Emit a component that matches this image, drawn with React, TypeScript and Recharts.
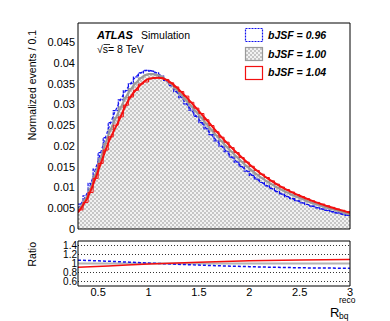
import React from 'react';
import { ComposedChart, Area, Line, XAxis, YAxis, ReferenceLine } from 'recharts';

// histogram bins: 0.05 wide, starting at 0.3
const BIN_START = 0.3;
const BIN_WIDTH = 0.05;
const FIT_START = 0.3;
const FIT_STEP = 0.1;

const histNominal = [
  0.0050, 0.0072, 0.0098, 0.0130, 0.0170, 0.0206, 0.0240, 0.0268, 0.0294, 0.0317,
  0.0338, 0.0352, 0.0364, 0.0370, 0.0374, 0.0371, 0.0368, 0.0360, 0.0348, 0.0337,
  0.0323, 0.0310, 0.0296, 0.0282, 0.0268, 0.0254, 0.0239, 0.0225, 0.0212, 0.0198,
  0.0186, 0.0173, 0.0162, 0.0151, 0.0141, 0.0131, 0.0123, 0.0115, 0.0107, 0.0100,
  0.0094, 0.0088, 0.0082, 0.0077, 0.0072, 0.0067, 0.0063, 0.0059, 0.0055, 0.0051,
  0.0047, 0.0044, 0.0041, 0.0038,
];
const histUp = [
  0.0046, 0.0064, 0.0088, 0.0122, 0.0158, 0.0190, 0.0222, 0.0250, 0.0270, 0.0298,
  0.0318, 0.0334, 0.0349, 0.0354, 0.0363, 0.0364, 0.0364, 0.0360, 0.0352, 0.0342,
  0.0331, 0.0320, 0.0305, 0.0291, 0.0278, 0.0263, 0.0249, 0.0234, 0.0221, 0.0209,
  0.0196, 0.0184, 0.0172, 0.0161, 0.0151, 0.0141, 0.0132, 0.0124, 0.0116, 0.0108,
  0.0101, 0.0095, 0.0089, 0.0083, 0.0078, 0.0073, 0.0068, 0.0064, 0.0060, 0.0056,
  0.0052, 0.0048, 0.0045, 0.0042,
];
const histDown = [
  0.0060, 0.0080, 0.0110, 0.0144, 0.0184, 0.0220, 0.0256, 0.0285, 0.0311, 0.0333,
  0.0350, 0.0366, 0.0376, 0.0382, 0.0380, 0.0376, 0.0368, 0.0358, 0.0345, 0.0331,
  0.0316, 0.0301, 0.0286, 0.0271, 0.0256, 0.0241, 0.0227, 0.0212, 0.0199, 0.0186,
  0.0173, 0.0161, 0.0150, 0.0139, 0.0129, 0.0120, 0.0112, 0.0104, 0.0097, 0.0090,
  0.0084, 0.0078, 0.0073, 0.0068, 0.0063, 0.0059, 0.0055, 0.0051, 0.0048, 0.0045,
  0.0042, 0.0039, 0.0036, 0.0033,
];

// smooth templates, one point every 0.1 from 0.3 to 3.0
const fitNominal = [
  0.0045, 0.0083, 0.0152, 0.0225, 0.0280, 0.0328, 0.0358, 0.0373, 0.0370, 0.0354,
  0.0330, 0.0303, 0.0275, 0.0246, 0.0218, 0.0192, 0.0168, 0.0146, 0.0127, 0.0111,
  0.0097, 0.0085, 0.0075, 0.0065, 0.0057, 0.0049, 0.0042, 0.0035,
];
const fitUp = [
  0.0040, 0.0078, 0.0140, 0.0207, 0.0258, 0.0310, 0.0342, 0.0361, 0.0364, 0.0356,
  0.0336, 0.0311, 0.0284, 0.0256, 0.0228, 0.0202, 0.0178, 0.0156, 0.0136, 0.0119,
  0.0104, 0.0091, 0.0080, 0.0070, 0.0061, 0.0053, 0.0046, 0.0039,
];
const fitDown = [
  0.0050, 0.0092, 0.0165, 0.0240, 0.0300, 0.0343, 0.0372, 0.0382, 0.0373, 0.0352,
  0.0324, 0.0294, 0.0264, 0.0234, 0.0206, 0.0180, 0.0156, 0.0135, 0.0116, 0.0101,
  0.0087, 0.0076, 0.0066, 0.0057, 0.0050, 0.0043, 0.0037, 0.0032,
];

const ratioX = [0.3, 0.6, 1.0, 1.5, 2.0, 2.5, 3.0];
const ratioUp = [0.915, 0.945, 0.99, 1.03, 1.06, 1.08, 1.09];
const ratioDown = [1.075, 1.05, 1.01, 0.965, 0.93, 0.905, 0.895];

const legendLabels = ['bJSF = 0.96', 'bJSF = 1.00', 'bJSF = 1.04'];

const xMajor = [0.5, 1, 1.5, 2, 2.5, 3];
const xMinor = Array.from({ length: 27 }, (_, i) => +(0.4 + i * 0.1).toFixed(1));
const yMajor = [0, 0.005, 0.01, 0.015, 0.02, 0.025, 0.03, 0.035, 0.04, 0.045];
const yMinor = Array.from({ length: 50 }, (_, i) => +(i * 0.001).toFixed(3));
const rMajor = [0.6, 0.8, 1, 1.2, 1.4];
const rMinor = [0.5, 0.6, 0.7, 0.8, 0.9, 1, 1.1, 1.2, 1.3, 1.4, 1.5];

const X_DOMAIN: [number, number] = [0.3, 3];
const Y_DOMAIN: [number, number] = [0, 0.0496];
const R_DOMAIN: [number, number] = [0.5, 1.5];

const FONT = '"Liberation Sans", Arial, Helvetica, sans-serif';
const BLUE = '#1010f0';
const RED = '#f21010';
const GREY = '#9a9a9a';

const histRows = (vals: number[]) => [
  ...vals.map((v, i) => ({ x: +(BIN_START + i * BIN_WIDTH).toFixed(2), v })),
  { x: X_DOMAIN[1], v: vals[vals.length - 1] },
];
const fitRows = (vals: number[]) => vals.map((v, i) => ({ x: +(FIT_START + i * FIT_STEP).toFixed(1), v }));
const ratioRows = (vals: number[]) => vals.map((v, i) => ({ x: ratioX[i], v }));

const Checker = ({ id }: { id: string }) => (
  <defs>
    <pattern id={id} width="4" height="4" patternUnits="userSpaceOnUse">
      <rect width="4" height="4" fill="#f2f2f2" />
      <rect x="0" y="0" width="2" height="2" fill="#c6c6c6" />
      <rect x="2" y="2" width="2" height="2" fill="#c6c6c6" />
    </pattern>
  </defs>
);

// inward tick marks on every side of a frame (mirror axes take no space)
const THIN = 0.01;
const frameTicks = (
  prefix: string,
  xDom: [number, number],
  yDom: [number, number],
  xs: [number[], number[]],
  ys: [number[], number[]],
  xLen: [number, number],
  yLen: [number, number]
) => {
  const common = { tick: false as const, interval: 0 as const, allowDataOverflow: true, type: 'number' as const };
  const line = { stroke: '#000', strokeWidth: 1 };
  return [
    ...(['bottom', 'top'] as const).flatMap((o) =>
      [0, 1].map((k) => (
        <XAxis
          key={`${prefix}x${o}${k}`}
          xAxisId={`${prefix}x${o}${k}`}
          orientation={o}
          mirror
          height={THIN}
          domain={xDom}
          ticks={xs[k]}
          tickSize={xLen[k]}
          tickLine={line}
          axisLine={k === 0 ? line : false}
          {...common}
        />
      ))
    ),
    ...(['left', 'right'] as const).flatMap((o) =>
      [0, 1].map((k) => (
        <YAxis
          key={`${prefix}y${o}${k}`}
          yAxisId={`${prefix}y${o}${k}`}
          orientation={o}
          mirror
          width={THIN}
          domain={yDom}
          ticks={ys[k]}
          tickSize={yLen[k]}
          tickLine={line}
          axisLine={k === 0 ? line : false}
          {...common}
        />
      ))
    ),
  ];
};

export default function App() {
  const tickFont = { fontSize: 11, fill: '#000', fontFamily: FONT };
  return (
    <div style={{ position: 'absolute', left: 0, top: 0, width: 390, height: 321, background: '#fff', fontFamily: FONT }}>
      <div style={{ position: 'absolute', left: 0, top: 0 }}>
        <ComposedChart width={390} height={240} margin={{ top: 23, right: 40, bottom: 11, left: 28 }}>
          <Checker id="hatchMain" />
          <XAxis xAxisId="x" dataKey="x" type="number" domain={X_DOMAIN} allowDataOverflow hide />
          <YAxis
            yAxisId="y"
            type="number"
            domain={Y_DOMAIN}
            allowDataOverflow
            width={50}
            ticks={yMajor}
            interval={0}
            tickLine={false}
            tickSize={0}
            tickMargin={3}
            axisLine={false}
            tick={tickFont}
            tickFormatter={(v: number) => String(v)}
          />
          <Area
            xAxisId="x"
            yAxisId="y"
            data={histRows(histNominal)}
            dataKey="v"
            type="stepAfter"
            stroke="none"
            fill="url(#hatchMain)"
            fillOpacity={1}
            isAnimationActive={false}
          />
          <Line xAxisId="x" yAxisId="y" data={histRows(histDown)} dataKey="v" type="stepAfter" stroke={BLUE} strokeWidth={1.2} strokeDasharray="3 1" dot={false} isAnimationActive={false} />
          <Line xAxisId="x" yAxisId="y" data={fitRows(fitDown)} dataKey="v" type="monotone" stroke={BLUE} strokeWidth={1.2} strokeDasharray="3 2" dot={false} isAnimationActive={false} />
          <Line xAxisId="x" yAxisId="y" data={histRows(histNominal)} dataKey="v" type="stepAfter" stroke={GREY} strokeWidth={1} dot={false} isAnimationActive={false} />
          <Line xAxisId="x" yAxisId="y" data={fitRows(fitNominal)} dataKey="v" type="monotone" stroke={GREY} strokeWidth={2} dot={false} isAnimationActive={false} />
          <Line xAxisId="x" yAxisId="y" data={histRows(histUp)} dataKey="v" type="stepAfter" stroke={RED} strokeWidth={1} dot={false} isAnimationActive={false} />
          <Line xAxisId="x" yAxisId="y" data={fitRows(fitUp)} dataKey="v" type="monotone" stroke={RED} strokeWidth={2} dot={false} isAnimationActive={false} />
          {frameTicks('m', X_DOMAIN, Y_DOMAIN, [xMajor, xMinor], [yMajor, yMinor], [5, 2.5], [7, 3.5])}
        </ComposedChart>
      </div>

      <div style={{ position: 'absolute', left: 0, top: 230 }}>
        <ComposedChart width={390} height={91} margin={{ top: 11, right: 40, bottom: 15, left: 28 }}>
          <XAxis
            xAxisId="x"
            dataKey="x"
            type="number"
            domain={X_DOMAIN}
            allowDataOverflow
            height={20}
            ticks={xMajor}
            interval={0}
            tickLine={false}
            axisLine={false}
            tickSize={0}
            tickMargin={2}
            tick={tickFont}
          />
          <YAxis
            yAxisId="y"
            type="number"
            domain={R_DOMAIN}
            allowDataOverflow
            width={50}
            ticks={rMajor}
            interval={0}
            tickLine={false}
            tickSize={0}
            tickMargin={1}
            axisLine={false}
            tick={{ ...tickFont, fontSize: 10 }}
          />
          <ReferenceLine xAxisId="x" yAxisId="y" y={1} stroke="#b4b4b4" strokeWidth={2} />
          {rMajor
            .filter((r) => r !== 1)
            .map((r) => (
              <ReferenceLine key={r} xAxisId="x" yAxisId="y" y={r} stroke="#333" strokeWidth={1} strokeDasharray="1 2" />
            ))}
          <Line xAxisId="x" yAxisId="y" data={ratioRows(ratioDown)} dataKey="v" type="monotone" stroke={BLUE} strokeWidth={1.5} strokeDasharray="3 2" dot={false} isAnimationActive={false} />
          <Line xAxisId="x" yAxisId="y" data={ratioRows(ratioUp)} dataKey="v" type="monotone" stroke={RED} strokeWidth={1.5} dot={false} isAnimationActive={false} />
          {frameTicks('r', X_DOMAIN, R_DOMAIN, [xMajor, xMinor], [rMajor, rMinor], [4, 2], [6, 3])}
        </ComposedChart>
      </div>

      <svg width={390} height={321} style={{ position: 'absolute', left: 0, top: 0, pointerEvents: 'none' }}>
        <Checker id="hatchLegend" />
        <text x={97} y={39} fontSize={11} fontWeight="bold" fontStyle="italic" fontFamily={FONT}>ATLAS</text>
        <text x={141} y={39} fontSize={10.5} fontFamily={FONT}>Simulation</text>
        <text x={97} y={53} fontSize={10.5} fontFamily={FONT}>√s= 8 TeV</text>
        <line x1={103.5} y1={44.5} x2={110} y2={44.5} stroke="#000" strokeWidth={0.8} />

        <rect x={245.5} y={28.5} width={17} height={13} fill="#fff" stroke={BLUE} strokeWidth={1.2} strokeDasharray="2 1" />
        <rect x={245.5} y={47.5} width={17} height={13} fill="url(#hatchLegend)" stroke={GREY} strokeWidth={1.2} />
        <rect x={245.5} y={66.5} width={17} height={13} fill="#fff" stroke={RED} strokeWidth={1.2} />
        {legendLabels.map((l, i) => (
          <text key={l} x={268} y={39 + i * 18.7} fontSize={10.5} fontWeight="bold" fontStyle="italic" fontFamily={FONT}>
            {l}
          </text>
        ))}

        <text x={36} y={30} transform="rotate(-90 36 30)" textAnchor="end" fontSize={10.5} fontFamily={FONT}>
          Normalized events / 0.1
        </text>
        <text x={36} y={242} transform="rotate(-90 36 242)" textAnchor="end" fontSize={10.5} fontFamily={FONT}>
          Ratio
        </text>

        <text x={330} y={317} fontSize={13} fontFamily={FONT}>R</text>
        <text x={339} y={303} fontSize={8.5} fontFamily={FONT}>reco</text>
        <text x={339} y={319} fontSize={8.5} fontFamily={FONT}>bq</text>
      </svg>
    </div>
  );
}
